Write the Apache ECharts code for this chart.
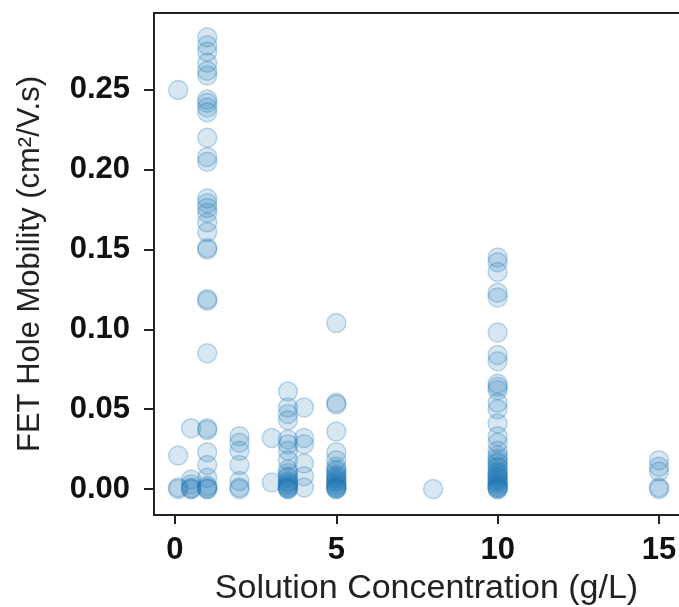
<!DOCTYPE html>
<html>
<head>
<meta charset="utf-8">
<script src="https://cdn.jsdelivr.net/npm/echarts@6/dist/echarts.min.js"></script>
<style>
html,body{margin:0;padding:0;background:#fff;}
#c{width:679px;height:607px;}
</style>
</head>
<body>
<div id="c"></div>
<script>
// Data (x: g/L, y: cm2/V.s)
const conc_0p1 = [0.250, 0.021, 0.001, 0.000];
const conc_0p5 = [0.038, 0.006, 0.003, 0.001, 0.000, 0.000];
const conc_1 = [0.283, 0.278, 0.274, 0.267, 0.262, 0.259, 0.244, 0.242, 0.239, 0.236, 0.220, 0.208, 0.205,
  0.182, 0.179, 0.176, 0.173, 0.167, 0.161, 0.151, 0.150, 0.119, 0.118, 0.085, 0.038, 0.037, 0.023, 0.015,
  0.007, 0.002, 0.001, 0.000, 0.000];
const conc_2 = [0.033, 0.029, 0.024, 0.015, 0.005, 0.001, 0.000];
const conc_3 = [0.032, 0.004];
const conc_3p5 = [0.061, 0.051, 0.047, 0.043, 0.031, 0.028, 0.024, 0.018, 0.012, 0.010, 0.008, 0.007, 0.005, 0.004,
  0.003, 0.002, 0.001, 0.001, 0.000, 0.000];
const conc_4 = [0.051, 0.032, 0.028, 0.016, 0.008, 0.001];
const conc_5 = [0.104, 0.054, 0.053, 0.036, 0.023, 0.018, 0.014, 0.012, 0.011, 0.009, 0.008, 0.007, 0.006, 0.005,
  0.004, 0.003, 0.002, 0.001, 0.001, 0.000, 0.000];
const conc_8 = [0.000];
const conc_10 = [0.145, 0.142, 0.136, 0.123, 0.120, 0.098, 0.084, 0.080, 0.066, 0.064, 0.062, 0.054, 0.050,
  0.041, 0.033, 0.029, 0.024, 0.021, 0.019, 0.017, 0.016, 0.014, 0.013, 0.011, 0.010, 0.009, 0.008, 0.007,
  0.006, 0.005, 0.004, 0.003, 0.002, 0.001, 0.001, 0.000, 0.000];
const conc_15 = [0.018, 0.014, 0.011, 0.001, 0.000];

const concentrations = [0.1, 0.5, 1, 2, 3, 3.5, 4, 5, 8, 10, 15];
const mobilityByConc = [conc_0p1, conc_0p5, conc_1, conc_2, conc_3, conc_3p5, conc_4, conc_5, conc_8, conc_10, conc_15];

const xTicks = [0, 5, 10, 15];
const yTicks = [0, 0.05, 0.10, 0.15, 0.20, 0.25];

const xTitle = 'Solution Concentration (g/L)';
const yTitle = 'FET Hole Mobility (cm\u00B2/V.s)';

const points = [];
concentrations.forEach((c, i) => {
  mobilityByConc[i].forEach(v => points.push([c, v]));
});

const chart = echarts.init(document.getElementById('c'), null, {renderer: 'canvas'});
chart.setOption({
  backgroundColor: '#ffffff',
  animation: false,
  grid: {
    left: 154, top: 13, right: -20, bottom: 92,
    containLabel: false, outerBoundsMode: 'none',
    show: true, borderColor: '#222', borderWidth: 2, backgroundColor: 'transparent'
  },
  xAxis: {
    type: 'value',
    min: -0.65, max: 16.24,
    splitLine: {show: false},
    axisLine: {show: true, onZero: false, lineStyle: {color: '#222', width: 2}},
    axisTick: {show: true, customValues: xTicks, length: 9, lineStyle: {color: '#222', width: 2}},
    axisLabel: {
      customValues: xTicks, margin: 20,
      fontFamily: 'Liberation Sans, Arial, sans-serif', fontWeight: 'bold', fontSize: 31, color: '#111',
      formatter: v => String(v)
    },
    name: xTitle, nameLocation: 'middle', nameGap: 57,
    nameTextStyle: {fontFamily: 'Liberation Sans, Arial, sans-serif', fontSize: 34, color: '#222'}
  },
  yAxis: {
    type: 'value',
    min: -0.0163, max: 0.2982,
    splitLine: {show: false},
    axisLine: {show: true, onZero: false, lineStyle: {color: '#222', width: 2}},
    axisTick: {show: true, customValues: yTicks, length: 10, lineStyle: {color: '#222', width: 2}},
    axisLabel: {
      customValues: yTicks, margin: 24,
      fontFamily: 'Liberation Sans, Arial, sans-serif', fontWeight: 'bold', fontSize: 31, color: '#111',
      formatter: v => v.toFixed(2)
    },
    name: yTitle, nameLocation: 'middle', nameGap: 108, nameRotate: 90,
    nameTextStyle: {fontFamily: 'Liberation Sans, Arial, sans-serif', fontSize: 31, color: '#222'}
  },
  series: [{
    type: 'scatter',
    data: points,
    symbol: 'circle',
    symbolSize: 19,
    itemStyle: {
      color: 'rgba(31,119,180,0.22)',
      borderColor: 'rgba(31,119,180,0.35)',
      borderWidth: 1.5
    },
    emphasis: {disabled: true}
  }]
});
</script>
</body>
</html>
